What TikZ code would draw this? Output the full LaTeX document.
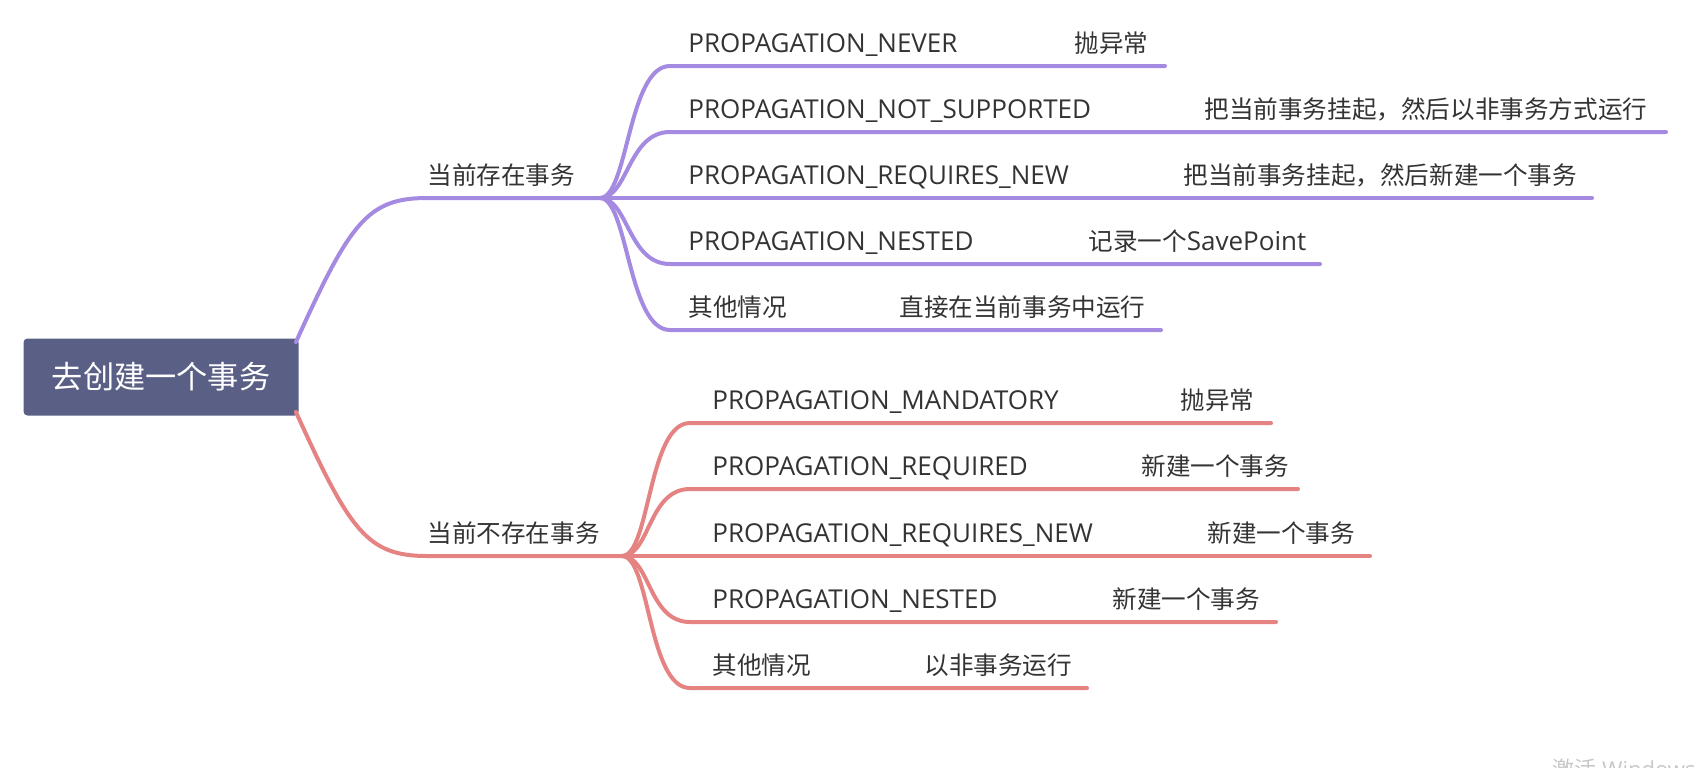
\documentclass[tikz,border=0pt]{standalone}
\usepackage{fontspec}
\setmainfont{Open Sans}
\newfontfamily\cjk{Noto Sans CJK SC}
\usepackage{tikz}
\usetikzlibrary{calc}
\definecolor{rootblue}{RGB}{90,95,133}
\definecolor{mappurple}{RGB}{165,138,225}
\definecolor{mapred}{RGB}{229,131,131}
\definecolor{textgray}{RGB}{51,51,51}

\begin{document}
\begin{tikzpicture}[x=0.5pt, y=-0.5pt,
    lbl/.style={anchor=base west, inner sep=0pt, text=textgray, font=\fontsize{13}{15}\selectfont},
    cn/.style={lbl, font=\cjk\fontsize{12.3}{15}\selectfont},
    purp/.style={draw=mappurple, line width=2pt, line cap=round},
    redl/.style={draw=mapred, line width=2pt, line cap=round}]
    \useasboundingbox (0,0) rectangle (1696,767);
    \clip (0,0) rectangle (1696,767);

    % Root
    \node[fill=rootblue, rounded corners=2pt, minimum width=137.5pt, minimum height=38.5pt,
          text=white, font=\cjk\fontsize{15.6}{18}\selectfont] (root) at (161,377) {去创建一个事务};

    % Branch 1: a transaction exists
    \node[cn] (exist) at (427,184) {当前存在事务};
    \coordinate (jexist) at (600,198);
    \draw[purp] ($(root.north east)+(-3,4)$) .. controls +(54,-119) and +(-60,0) .. ($(exist.base west)+(0,14)$) -- (jexist);

    \node[lbl] (pnever) at (688,52) {PROPAGATION\_NEVER};
    \node[cn] (gnever) at (1074,52) {抛异常};
    \draw[purp] (jexist) .. controls +(28,0) and +(-42,0) .. (670,66) -- (1165,66);

    \node[lbl] (pnotsup) at (688,118) {PROPAGATION\_NOT\_SUPPORTED};
    \node[cn] (gnotsup) at (1204,118) {把当前事务挂起，然后以非事务方式运行};
    \draw[purp] (jexist) .. controls +(28,0) and +(-42,0) .. (670,132) -- (1666,132);

    \node[lbl] (preqnew) at (688,184) {PROPAGATION\_REQUIRES\_NEW};
    \node[cn] (greqnew) at (1183,184) {把当前事务挂起，然后新建一个事务};
    \draw[purp] (jexist) -- (1592,198);

    \node[lbl] (pnested) at (688,250) {PROPAGATION\_NESTED};
    \node[lbl] (gnested) at (1088,250) {{\cjk\fontsize{12.3}{15}\selectfont 记录一个}SavePoint};
    \draw[purp] (jexist) .. controls +(28,0) and +(-42,0) .. (670,264) -- (1320,264);

    \node[cn] (pother) at (688,316) {其他情况};
    \node[cn] (gother) at (899,316) {直接在当前事务中运行};
    \draw[purp] (jexist) .. controls +(28,0) and +(-42,0) .. (670,330) -- (1161,330);

    % Branch 2: no transaction yet
    \node[cn] (noexist) at (427,542) {当前不存在事务};
    \coordinate (jnoexist) at (622,556);
    \draw[redl] ($(root.south east)+(-3,-4)$) .. controls +(54,119) and +(-60,0) .. ($(noexist.base west)+(0,14)$) -- (jnoexist);

    \node[lbl] (rmand) at (712,409) {PROPAGATION\_MANDATORY};
    \node[cn] (gmand) at (1180,409) {抛异常};
    \draw[redl] (jnoexist) .. controls +(28,0) and +(-42,0) .. (690,423) -- (1271,423);

    \node[lbl] (rreq) at (712,475) {PROPAGATION\_REQUIRED};
    \node[cn] (greq) at (1141,475) {新建一个事务};
    \draw[redl] (jnoexist) .. controls +(28,0) and +(-42,0) .. (690,489) -- (1298,489);

    \node[lbl] (rreqnew) at (712,542) {PROPAGATION\_REQUIRES\_NEW};
    \node[cn] (grreqnew) at (1207,542) {新建一个事务};
    \draw[redl] (jnoexist) -- (1370,556);

    \node[lbl] (rnested) at (712,608) {PROPAGATION\_NESTED};
    \node[cn] (grnested) at (1112,608) {新建一个事务};
    \draw[redl] (jnoexist) .. controls +(28,0) and +(-42,0) .. (690,622) -- (1276,622);

    \node[cn] (rother) at (712,674) {其他情况};
    \node[cn] (grother) at (924,674) {以非事务运行};
    \draw[redl] (jnoexist) .. controls +(28,0) and +(-42,0) .. (690,688) -- (1087,688);

    % Watermark, cut by the lower edge
    \node[lbl, text=black!22, font=\fontsize{11}{13}\selectfont] (mark) at (1552,777) {{\cjk 激活} Windows};
\end{tikzpicture}
\end{document}
